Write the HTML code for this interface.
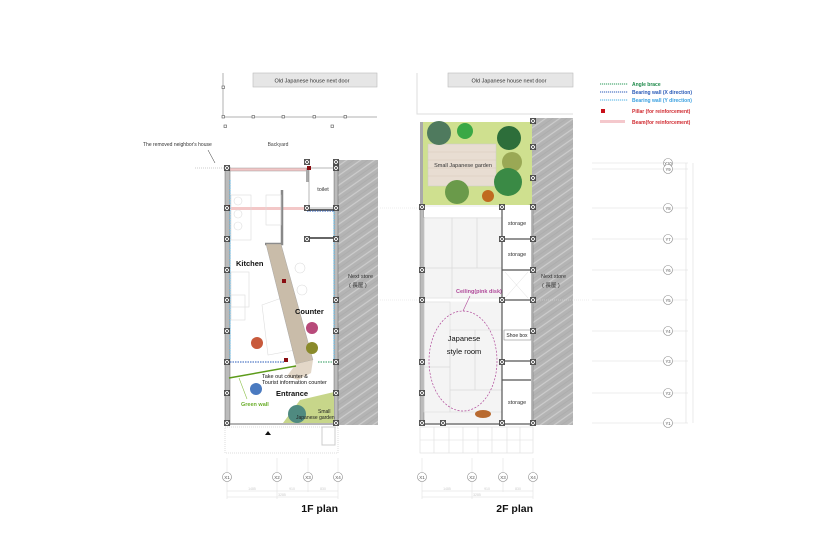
<!DOCTYPE html>
<html><head><meta charset="utf-8"><style>
html,body{margin:0;padding:0;background:#fff}
svg{display:block;font-family:"Liberation Sans",sans-serif}
</style></head><body>
<svg width="840" height="560" viewBox="0 0 840 560" xmlns="http://www.w3.org/2000/svg">
<defs>
<pattern id="hatch" width="8" height="8" patternUnits="userSpaceOnUse" patternTransform="rotate(-35)">
<rect width="8" height="8" fill="#b4b4b4"/><line x1="0" y1="2" x2="8" y2="2" stroke="#cdcdcd" stroke-width="1.2"/><line x1="0" y1="6" x2="8" y2="6" stroke="#a8a8a8" stroke-width="0.6"/>
</pattern>
<g id="p"><rect x="-2.5" y="-2.5" width="5" height="5" fill="#fff" stroke="#333" stroke-width="0.8"/><path d="M-2.5-2.5L2.5 2.5M2.5-2.5L-2.5 2.5" stroke="#333" stroke-width="0.6"/></g>
<g id="c"><circle r="4.5" fill="#fff" stroke="#888" stroke-width="0.6"/></g>
</defs>

<!-- ===== 1F ===== -->
<rect x="253" y="73" width="124" height="14" fill="#e6e6e6" stroke="#bbb" stroke-width="0.6"/>
<text x="312" y="82.5" font-size="5.5" text-anchor="middle" fill="#333">Old Japanese house next door</text>
<path d="M223 73V117H377" fill="none" stroke="#ccc" stroke-width="1.5"/>
<g fill="#fff" stroke="#555" stroke-width="0.6"><rect x="222" y="86" width="2.5" height="2.5"/><rect x="222" y="115.5" width="2.5" height="2.5"/><rect x="252" y="115.5" width="2.5" height="2.5"/><rect x="282" y="115.5" width="2.5" height="2.5"/><rect x="313" y="115.5" width="2.5" height="2.5"/><rect x="344" y="115.5" width="2.5" height="2.5"/><rect x="224" y="125" width="2.5" height="2.5"/><rect x="331" y="125" width="2.5" height="2.5"/></g>
<text x="278" y="146" font-size="5" text-anchor="middle" fill="#444">Backyard</text>
<text x="143" y="146" font-size="5" fill="#333">The removed neighbor's house</text>
<line x1="208" y1="150" x2="215" y2="163" stroke="#333" stroke-width="0.5"/>
<line x1="195" y1="168" x2="225" y2="168" stroke="#ccc" stroke-dasharray="1 1"/>

<rect x="338" y="160" width="40" height="265" fill="url(#hatch)"/>
<text x="348" y="278" font-size="5.5" fill="#333">Next store</text>
<text x="349" y="287" font-size="5.5" fill="#333">( 長屋 )</text>
<rect x="225" y="167" width="113" height="258" fill="#fff"/>
<rect x="225" y="167" width="5" height="258" fill="#bbb" stroke="#666" stroke-width="0.5"/>
<rect x="334" y="160" width="4" height="265" fill="#bbb" stroke="#666" stroke-width="0.5"/>
<rect x="230" y="168" width="78" height="3" fill="#f2c6c6" stroke="#888" stroke-width="0.4"/>
<rect x="306" y="168" width="3" height="14" fill="#aaa"/>
<rect x="309" y="168" width="25" height="40" fill="#fff" stroke="#888" stroke-width="0.6"/>
<text x="323" y="191" font-size="5.5" text-anchor="middle" fill="#333">toilet</text>
<rect x="230" y="207" width="76" height="3" fill="#f3c8c8"/>
<line x1="307" y1="210" x2="334" y2="210" stroke="#666" stroke-width="2"/>
<line x1="307" y1="238" x2="334" y2="238" stroke="#666" stroke-width="2"/>
<path d="M282 190V244H265" fill="none" stroke="#888" stroke-width="2.5"/>
<g fill="none" stroke="#ddd" stroke-width="0.6">
<circle cx="238" cy="201" r="4"/><circle cx="238" cy="214" r="4"/><circle cx="238" cy="226" r="4"/>
<rect x="231" y="195" width="20" height="45"/><rect x="266" y="195" width="15" height="30"/>
<rect x="231" y="272" width="18" height="35"/><rect x="231" y="295" width="14" height="25"/>
<path d="M262 305L290 295L295 350L268 355Z"/>
<circle cx="300" cy="268" r="5"/><circle cx="302" cy="290" r="5"/>
</g>
<polygon points="266,244 281,244 313,360 296,364" fill="#c9bca9" stroke="#999" stroke-width="0.4"/>
<polygon points="296,364 313,360 311,373 298,380 287,376" fill="#e3d7c8"/>
<text x="236" y="266" font-size="7.5" font-weight="bold" fill="#111">Kitchen</text>
<text x="295" y="314" font-size="7.5" font-weight="bold" fill="#111">Counter</text>
<line x1="230" y1="362" x2="285" y2="362" stroke="#2a5bb8" stroke-width="1" stroke-dasharray="1.5 1"/>
<line x1="230" y1="180" x2="230" y2="360" stroke="#4bb0e6" stroke-width="1" stroke-dasharray="1.5 1"/>
<line x1="334" y1="210" x2="334" y2="360" stroke="#4bb0e6" stroke-width="1" stroke-dasharray="1.5 1"/>
<line x1="307" y1="211" x2="334" y2="211" stroke="#2a5bb8" stroke-width="1" stroke-dasharray="1.5 1"/>
<line x1="318" y1="362" x2="334" y2="362" stroke="#2a9a5a" stroke-width="1" stroke-dasharray="1.5 1"/>
<line x1="229" y1="378" x2="296" y2="366" stroke="#5c9b1a" stroke-width="1.5"/>
<line x1="239" y1="378" x2="247" y2="399" stroke="#8cc04a" stroke-width="0.6"/>
<circle cx="257" cy="343" r="6" fill="#c85a3c"/>
<circle cx="312" cy="328" r="6" fill="#b84a7a"/><circle cx="312" cy="348" r="6" fill="#8a8a2a"/>
<circle cx="256" cy="389" r="6" fill="#4a7ac0"/>
<text x="262" y="378" font-size="5.5" fill="#111">Take out counter &amp;</text>
<text x="262" y="384" font-size="5.5" fill="#111">Tourist information counter</text>
<text x="241" y="406" font-size="5.5" fill="#6aae2a" font-weight="bold">Green wall</text>
<text x="276" y="396" font-size="7.5" font-weight="bold" fill="#111">Entrance</text>
<polygon points="283,423 300,400 334,392 334,423" fill="#c7d68a"/>
<circle cx="297" cy="414" r="9" fill="#4f8a80"/>
<text x="318" y="413" font-size="5" fill="#222">Small</text>
<text x="296" y="419" font-size="5" fill="#222">Japanese garden</text>
<rect x="282" y="279" width="4" height="4" fill="#8a0e12"/><rect x="284" y="358" width="4" height="4" fill="#8a0e12"/><rect x="226" y="205" width="4" height="4" fill="#8a0e12"/><rect x="307" y="166" width="4" height="4" fill="#8a0e12"/>
<line x1="230" y1="424" x2="334" y2="424" stroke="#888" stroke-width="1.2"/>
<g><use href="#p" x="227" y="168"/><use href="#p" x="227" y="208"/><use href="#p" x="227" y="239"/><use href="#p" x="227" y="270"/><use href="#p" x="227" y="300"/><use href="#p" x="227" y="331"/><use href="#p" x="227" y="362"/><use href="#p" x="227" y="393"/><use href="#p" x="227" y="423"/>
<use href="#p" x="336" y="162"/><use href="#p" x="336" y="168"/><use href="#p" x="336" y="208"/><use href="#p" x="336" y="239"/><use href="#p" x="336" y="300"/><use href="#p" x="336" y="331"/><use href="#p" x="336" y="362"/><use href="#p" x="336" y="393"/><use href="#p" x="336" y="423"/>
<use href="#p" x="307" y="208"/><use href="#p" x="307" y="239"/><use href="#p" x="307" y="162"/></g>
<path d="M265 435L268 431L271 435Z" fill="#111"/>
<rect x="225" y="427" width="113" height="26" fill="none" stroke="#ddd" stroke-dasharray="1 1"/>
<rect x="322" y="427" width="13" height="18" fill="none" stroke="#ccc"/>
<g stroke="#ddd" stroke-width="0.5"><line x1="227" y1="458" x2="227" y2="499"/><line x1="277" y1="458" x2="277" y2="499"/><line x1="308" y1="458" x2="308" y2="492"/><line x1="338" y1="458" x2="338" y2="499"/><line x1="227" y1="491" x2="338" y2="491"/><line x1="227" y1="497" x2="338" y2="497"/></g>
<g font-size="4.5" fill="#555" text-anchor="middle"><use href="#c" x="227" y="477"/><text x="227" y="479">X1</text><use href="#c" x="277" y="477"/><text x="277" y="479">X2</text><use href="#c" x="308" y="477"/><text x="308" y="479">X3</text><use href="#c" x="338" y="477"/><text x="338" y="479">X4</text>
<text x="252" y="490" fill="#ccc" font-size="3.5">1485</text><text x="292" y="490" fill="#ccc" font-size="3.5">910</text><text x="323" y="490" fill="#ccc" font-size="3.5">830</text><text x="282" y="496" fill="#ccc" font-size="3.5">3285</text></g>
<text x="338" y="512" font-size="10.5" font-weight="bold" text-anchor="end" fill="#111">1F plan</text>

<!-- ===== 2F ===== -->
<rect x="448" y="73" width="125" height="14" fill="#e6e6e6" stroke="#bbb" stroke-width="0.6"/>
<text x="509" y="82.5" font-size="5.5" text-anchor="middle" fill="#333">Old Japanese house next door</text>
<path d="M417 73V114H573" fill="none" stroke="#ddd" stroke-width="1"/>
<rect x="532" y="118" width="41" height="307" fill="url(#hatch)"/>
<text x="541" y="278" font-size="5.5" fill="#333">Next store</text>
<text x="542" y="287" font-size="5.5" fill="#333">( 長屋 )</text>
<rect x="420" y="122" width="112" height="84" fill="#cfe08f"/>
<rect x="428" y="144" width="68" height="42" fill="#e8ddd2" stroke="#ccc" stroke-width="0.5"/>
<g stroke="#d6c8b8" stroke-width="0.5"><line x1="428" y1="152" x2="496" y2="152"/><line x1="428" y1="160" x2="496" y2="160"/><line x1="428" y1="168" x2="496" y2="168"/><line x1="428" y1="176" x2="496" y2="176"/></g>
<text x="463" y="167" font-size="5.5" text-anchor="middle" fill="#333">Small Japanese garden</text>
<circle cx="439" cy="133" r="12" fill="#4f7a5e"/><circle cx="465" cy="131" r="8" fill="#3aa845"/>
<circle cx="509" cy="138" r="12" fill="#2d6e3a"/><circle cx="512" cy="162" r="10" fill="#9aa855"/>
<circle cx="508" cy="182" r="14" fill="#3a8a45"/><circle cx="457" cy="192" r="12" fill="#6a9a4a"/>
<circle cx="488" cy="196" r="6" fill="#c06a20"/>
<rect x="420" y="122" width="3" height="84" fill="#aaa"/>
<rect x="420" y="205" width="112" height="220" fill="#f4f4f4"/>
<rect x="420" y="205" width="4" height="220" fill="#bbb" stroke="#666" stroke-width="0.4"/>
<rect x="529" y="205" width="4" height="220" fill="#bbb" stroke="#666" stroke-width="0.4"/>
<rect x="424" y="207" width="78" height="10" fill="#fff"/>
<g stroke="#ddd" stroke-width="0.6" fill="none">
<rect x="424" y="218" width="28" height="50"/><rect x="452" y="218" width="25" height="50"/><rect x="477" y="218" width="25" height="50"/>
<rect x="424" y="268" width="28" height="30"/><rect x="452" y="268" width="50" height="30"/>
<rect x="424" y="302" width="26" height="65"/><rect x="450" y="330" width="25" height="60"/><rect x="475" y="330" width="27" height="60"/><rect x="424" y="367" width="26" height="45"/><rect x="450" y="390" width="52" height="22"/>
</g>
<line x1="424" y1="300" x2="502" y2="300" stroke="#fff" stroke-width="3"/>
<rect x="502" y="205" width="29" height="220" fill="#fff"/>
<g stroke="#555" stroke-width="1.2"><line x1="502" y1="205" x2="502" y2="425"/><line x1="502" y1="239" x2="531" y2="239"/><line x1="502" y1="270" x2="531" y2="270"/><line x1="502" y1="300" x2="531" y2="300"/><line x1="502" y1="361" x2="531" y2="361"/><line x1="502" y1="380" x2="531" y2="380"/></g>
<g stroke="#ddd" stroke-width="0.5"><path d="M505 272L528 298M528 272L505 298"/></g>
<rect x="504" y="330" width="27" height="10" fill="#fff" stroke="#777" stroke-width="0.5"/>
<text x="517" y="337" font-size="5" text-anchor="middle" fill="#222">Shoe box</text>
<text x="517" y="225" font-size="5.5" text-anchor="middle" fill="#333">storage</text>
<text x="517" y="256" font-size="5.5" text-anchor="middle" fill="#333">storage</text>
<text x="517" y="404" font-size="5.5" text-anchor="middle" fill="#333">storage</text>
<ellipse cx="463" cy="361" rx="34" ry="50" fill="none" stroke="#b04a9a" stroke-width="0.7" stroke-dasharray="2 1.5"/>
<line x1="463" y1="311" x2="470" y2="296" stroke="#b04a9a" stroke-width="0.6"/>
<text x="456" y="293" font-size="5.5" font-weight="bold" fill="#b04a9a">Ceiling(pink disk)</text>
<text x="464" y="341" font-size="7.5" text-anchor="middle" fill="#111">Japanese</text>
<text x="464" y="354" font-size="7.5" text-anchor="middle" fill="#111">style room</text>
<ellipse cx="483" cy="414" rx="8" ry="4" fill="#b86a30"/>
<line x1="420" y1="424" x2="533" y2="424" stroke="#777" stroke-width="1.5"/>
<g><use href="#p" x="533" y="121"/><use href="#p" x="533" y="147"/><use href="#p" x="533" y="178"/><use href="#p" x="422" y="207"/><use href="#p" x="533" y="207"/>
<use href="#p" x="422" y="270"/><use href="#p" x="422" y="300"/><use href="#p" x="422" y="362"/><use href="#p" x="422" y="393"/><use href="#p" x="422" y="423"/>
<use href="#p" x="533" y="239"/><use href="#p" x="533" y="270"/><use href="#p" x="533" y="300"/><use href="#p" x="533" y="331"/><use href="#p" x="533" y="362"/><use href="#p" x="533" y="423"/>
<use href="#p" x="502" y="239"/><use href="#p" x="502" y="300"/><use href="#p" x="502" y="362"/><use href="#p" x="502" y="423"/><use href="#p" x="502" y="207"/><use href="#p" x="443" y="423"/></g>
<g stroke="#ddd" stroke-width="0.6" fill="none"><rect x="420" y="427" width="113" height="26"/><line x1="420" y1="440" x2="533" y2="440"/><line x1="434" y1="427" x2="434" y2="453"/><line x1="449" y1="427" x2="449" y2="453"/><line x1="463" y1="427" x2="463" y2="453"/><line x1="478" y1="427" x2="478" y2="453"/><line x1="492" y1="427" x2="492" y2="453"/><line x1="507" y1="427" x2="507" y2="453"/><line x1="520" y1="427" x2="520" y2="453"/></g>
<g stroke="#ddd" stroke-width="0.5"><line x1="422" y1="458" x2="422" y2="499"/><line x1="472" y1="458" x2="472" y2="499"/><line x1="503" y1="458" x2="503" y2="492"/><line x1="533" y1="458" x2="533" y2="499"/><line x1="422" y1="491" x2="533" y2="491"/><line x1="422" y1="497" x2="533" y2="497"/></g>
<g font-size="4.5" fill="#555" text-anchor="middle"><use href="#c" x="422" y="477"/><text x="422" y="479">X1</text><use href="#c" x="472" y="477"/><text x="472" y="479">X2</text><use href="#c" x="503" y="477"/><text x="503" y="479">X3</text><use href="#c" x="533" y="477"/><text x="533" y="479">X4</text>
<text x="447" y="490" fill="#ccc" font-size="3.5">1485</text><text x="487" y="490" fill="#ccc" font-size="3.5">910</text><text x="518" y="490" fill="#ccc" font-size="3.5">830</text><text x="477" y="496" fill="#ccc" font-size="3.5">3285</text></g>
<text x="533" y="512" font-size="10.5" font-weight="bold" text-anchor="end" fill="#111">2F plan</text>

<!-- ===== Legend ===== -->
<g font-size="5" font-weight="bold">
<line x1="600" y1="84" x2="628" y2="84" stroke="#2a9a5a" stroke-dasharray="1.2 0.8"/><text x="632" y="86" fill="#1e8a4a">Angle brace</text>
<line x1="600" y1="92" x2="628" y2="92" stroke="#2a5bb8" stroke-dasharray="1.2 0.8"/><text x="632" y="94" fill="#2a5bb8">Bearing wall (X direction)</text>
<line x1="600" y1="100" x2="628" y2="100" stroke="#4bb0e6" stroke-dasharray="1.2 0.8"/><text x="632" y="102" fill="#3aa0e0">Bearing wall (Y direction)</text>
<rect x="601" y="109" width="4" height="4" fill="#c8101a"/><text x="632" y="113" fill="#d02a30">Pillar (for reinforcement)</text>
<rect x="600" y="120" width="25" height="3" fill="#f4c8cc"/><text x="632" y="124" fill="#d02a30">Beam(for reinforcement)</text>
</g>

<!-- ===== Y grid ===== -->
<g stroke="#ddd" stroke-width="0.6">
<line x1="592" y1="163" x2="688" y2="163"/><line x1="592" y1="169" x2="688" y2="169"/><line x1="592" y1="208" x2="688" y2="208"/><line x1="592" y1="239" x2="688" y2="239"/><line x1="592" y1="270" x2="688" y2="270"/><line x1="592" y1="300" x2="688" y2="300"/><line x1="592" y1="331" x2="688" y2="331"/><line x1="592" y1="361" x2="688" y2="361"/><line x1="592" y1="393" x2="688" y2="393"/><line x1="592" y1="423" x2="688" y2="423"/>
<line x1="686" y1="163" x2="686" y2="423"/><line x1="693" y1="163" x2="693" y2="423"/>
</g>
<g font-size="4.2" fill="#555" text-anchor="middle">
<use href="#c" x="668" y="163"/><text x="668" y="165">Y10</text><use href="#c" x="668" y="169"/><text x="668" y="171">Y9</text><use href="#c" x="668" y="208"/><text x="668" y="210">Y8</text><use href="#c" x="668" y="239"/><text x="668" y="241">Y7</text><use href="#c" x="668" y="270"/><text x="668" y="272">Y6</text><use href="#c" x="668" y="300"/><text x="668" y="302">Y5</text><use href="#c" x="668" y="331"/><text x="668" y="333">Y4</text><use href="#c" x="668" y="361"/><text x="668" y="363">Y3</text><use href="#c" x="668" y="393"/><text x="668" y="395">Y2</text><use href="#c" x="668" y="423"/><text x="668" y="425">Y1</text>
</g>
<g stroke="#ddd" stroke-width="0.5" stroke-dasharray="1 1"><line x1="380" y1="208" x2="420" y2="208"/><line x1="380" y1="300" x2="420" y2="300"/><line x1="540" y1="300" x2="590" y2="300"/></g>
</svg>
</body></html>
